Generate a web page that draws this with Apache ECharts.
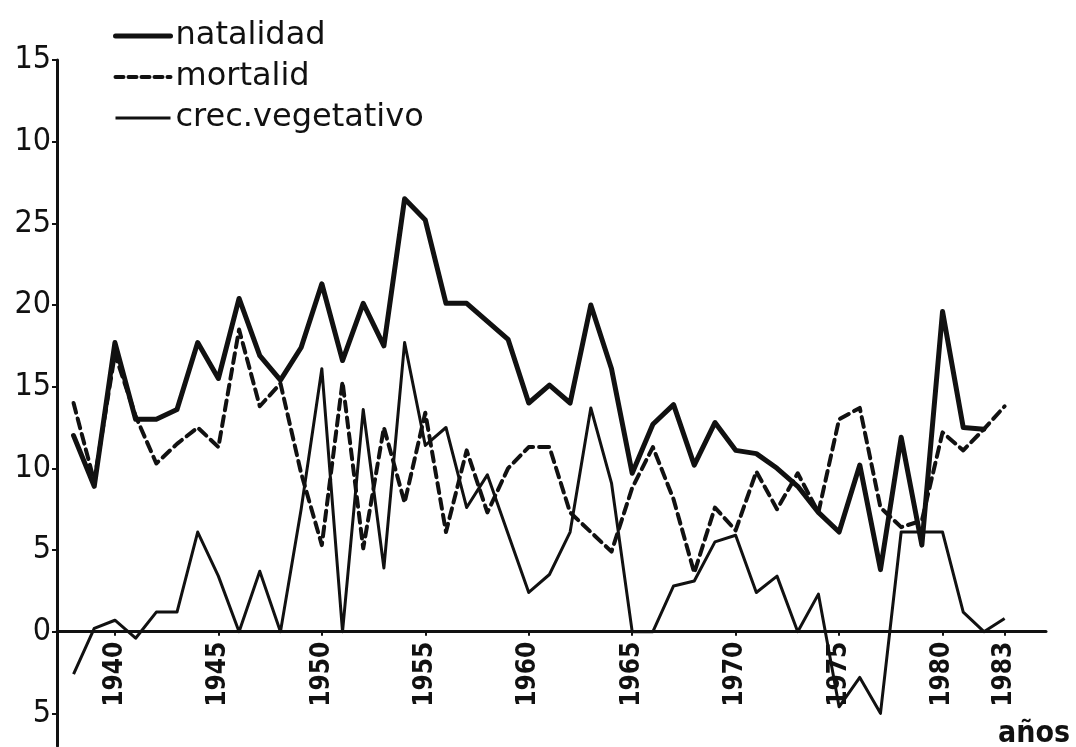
<!DOCTYPE html>
<html>
<head>
<meta charset="utf-8">
<title>natalidad, mortalidad y crecimiento vegetativo</title>
<script src="https://cdn.jsdelivr.net/npm/echarts@6/dist/echarts.min.js"></script>
<style>
  html, body { margin: 0; padding: 0; background: #fff; }
  #chart { width: 1076px; height: 747px; }
</style>
</head>
<body>
<div id="chart"></div>
<script>
// años 1938 - 1983
const years = [
  1938, 1939, 1940, 1941, 1942, 1943, 1944, 1945, 1946, 1947,
  1948, 1949, 1950, 1951, 1952, 1953, 1954, 1955, 1956, 1957,
  1958, 1959, 1960, 1961, 1962, 1963, 1964, 1965, 1966, 1967,
  1968, 1969, 1970, 1971, 1972, 1973, 1974, 1975, 1976, 1977,
  1978, 1979, 1980, 1981, 1982, 1983
]

const natalidad = [
  12.0, 8.9, 17.7, 13.0, 13.0, 13.6, 17.7, 15.5, 20.4, 16.9,
  15.4, 17.4, 21.3, 16.6, 20.1, 17.5, 26.5, 25.2, 20.1, 20.1,
  19.0, 17.9, 14.0, 15.1, 14.0, 20.0, 16.1, 9.7, 12.7, 13.9,
  10.2, 12.8, 11.1, 10.9, 10.0, 8.9, 7.3, 6.1, 10.2, 3.8,
  11.9, 5.3, 19.6, 12.5, 12.4, null
]

const mortalidad = [
  14.0, 9.2, 17.0, 13.2, 10.3, 11.5, 12.5, 11.3, 18.5, 13.8,
  15.2, 9.7, 5.3, 15.3, 5.1, 12.5, 7.9, 13.4, 6.1, 11.1,
  7.3, 10.0, 11.3, 11.3, 7.3, 6.1, 4.9, 8.8, 11.3, 8.1,
  3.6, 7.6, 6.2, 9.8, 7.5, 9.7, 7.3, 13.0, 13.7, 7.6,
  6.4, 6.8, 12.2, 11.1, 12.4, 13.8
]

const crecVegetativo = [
  -2.6, 0.2, 0.7, -0.4, 1.2, 1.2, 6.1, 3.4, 0, 3.7,
  0, 7.5, 16.1, 0, 13.6, 3.9, 17.7, 11.4, 12.5, 7.6,
  9.6, 6.0, 2.4, 3.5, 6.1, 13.7, 9.1, 0, 0, 2.8,
  3.1, 5.5, 5.9, 2.4, 3.4, 0, 2.3, -4.6, -2.8, -5.0,
  6.1, 6.1, 6.1, 1.2, 0, 0.8
]

// marcas del eje vertical, tal como están rotuladas en el original
const yTickValues = [-5, 0, 5, 10, 15, 20, 25, 30, 35]
const yTickLabels = ['5', '0', '5', '10', '15', '20', '25', '10', '15']

const xTickValues = [1940, 1945, 1950, 1955, 1960, 1965, 1970, 1975, 1980, 1983]

const pairs = (vals) => years
  .map((y, i) => [y, vals[i]])
  .filter((p) => p[1] !== null)

const chart = echarts.init(document.getElementById('chart'))

const numFont = "'DejaVu Sans Condensed', 'Liberation Sans Narrow', sans-serif"
const ink = '#111'
const noDot = { color: 'rgba(0,0,0,0)', borderWidth: 0 }

// el eje de años va sobre el valor 0, no en el borde inferior
const gridTop = 60
const gridBottom = 1
const yMin = -7
const yMax = 35
const plotH = 747 - gridTop - gridBottom
const zeroShift = plotH * (0 - yMin) / (yMax - yMin)

const option = {
  backgroundColor: '#fff',
  animation: false,
  textStyle: { color: ink },
  grid: { left: 57, right: 30, top: gridTop, bottom: gridBottom, outerBoundsMode: 'none' },
  legend: {
    orient: 'vertical',
    left: 108,
    top: 14,
    itemWidth: 55,
    itemHeight: 14,
    itemGap: 7,
    itemStyle: noDot,
    textStyle: {
      fontFamily: "'DejaVu Sans', sans-serif",
      fontSize: 32,
      lineHeight: 34,
      color: ink
    },
    data: [
      { name: 'natalidad', itemStyle: noDot, lineStyle: { width: 5, color: ink } },
      { name: 'mortalid', itemStyle: noDot, lineStyle: { width: 4, color: ink, type: [8, 5] } },
      { name: 'crec.vegetativo', itemStyle: noDot, lineStyle: { width: 3, color: ink } }
    ]
  },
  xAxis: {
    type: 'value',
    min: 1937.2,
    max: 1985,
    offset: -zeroShift,
    splitLine: { show: false },
    axisLine: { onZero: false, lineStyle: { color: ink, width: 3 } },
    axisTick: {
      customValues: xTickValues,
      length: 4,
      lineStyle: { color: ink, width: 2 }
    },
    axisLabel: {
      customValues: xTickValues,
      rotate: 90,
      margin: 10,
      fontFamily: numFont,
      fontSize: 26,
      fontWeight: 'bold',
      color: ink,
      formatter: (v) => String(v)
    },
    name: 'años',
    nameLocation: 'end',
    nameGap: 24,
    nameTextStyle: {
      fontFamily: numFont,
      fontSize: 30,
      fontWeight: 'bold',
      color: ink,
      align: 'right',
      verticalAlign: 'top',
      padding: [88, 0, 0, 0]
    }
  },
  yAxis: {
    type: 'value',
    min: yMin,
    max: yMax,
    splitLine: { show: false },
    axisLine: { show: true, onZero: false, lineStyle: { color: ink, width: 3 } },
    axisTick: {
      show: true,
      customValues: yTickValues,
      length: 5,
      lineStyle: { color: ink, width: 2 }
    },
    axisLabel: {
      customValues: yTickValues,
      margin: 6,
      fontFamily: numFont,
      fontSize: 32,
      color: ink,
      formatter: (v) => yTickLabels[yTickValues.indexOf(v)]
    }
  },
  series: [
    {
      name: 'natalidad',
      type: 'line',
      data: pairs(natalidad),
      symbol: 'none',
      z: 3,
      itemStyle: { color: ink },
      lineStyle: { color: ink, width: 5, join: 'round', cap: 'round' }
    },
    {
      name: 'mortalid',
      type: 'line',
      data: pairs(mortalidad),
      symbol: 'none',
      z: 2,
      itemStyle: { color: ink },
      lineStyle: { color: ink, width: 4, type: [10, 6], cap: 'round', join: 'round' }
    },
    {
      name: 'crec.vegetativo',
      type: 'line',
      data: pairs(crecVegetativo),
      symbol: 'none',
      z: 2,
      itemStyle: { color: ink },
      lineStyle: { color: ink, width: 3, join: 'round' }
    }
  ]
}

chart.setOption(option)
</script>
</body>
</html>
